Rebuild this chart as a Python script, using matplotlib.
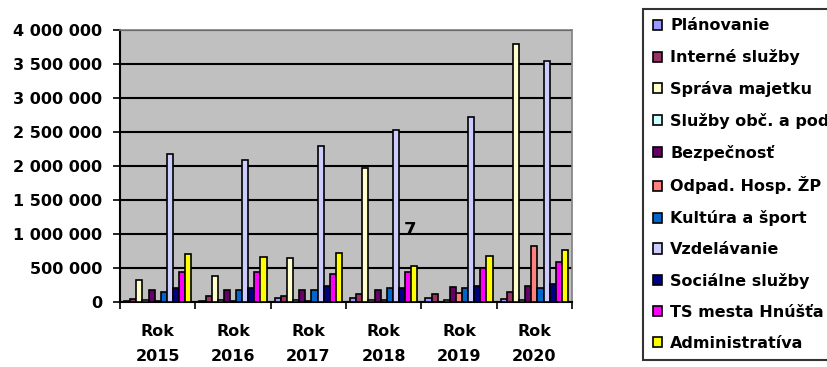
import numpy as np
import matplotlib.pyplot as plt
from matplotlib.ticker import FuncFormatter
from matplotlib.patches import Patch

plt.rcParams['font.family'] = ['DejaVu Sans']
plt.rcParams['font.weight'] = 'bold'

years = ['Rok\n2015', 'Rok\n2016', 'Rok\n2017', 'Rok\n2018', 'Rok\n2019', 'Rok\n2020']

names = ['Plánovanie', 'Interné služby', 'Správa majetku', 'Služby obč. a pod.',
         'Bezpečnosť', 'Odpad. Hosp. ŽP', 'Kultúra a šport', 'Vzdelávanie',
         'Sociálne služby', 'TS mesta Hnúšťa', 'Administratíva']

planovanie = [20000, 20000, 60000, 60000, 55000, 50000]
interne = [40000, 90000, 90000, 118000, 122000, 143000]
sprava = [323000, 380000, 643000, 1965000, 0, 3790000]
sluzby_obc = [30000, 25000, 30000, 30000, 30000, 30000]
bezpecnost = [176000, 176000, 176000, 176000, 216000, 235000]
odpad = [15000, 15000, 15000, 25000, 137000, 824000]
kultura = [147000, 176000, 176000, 206000, 206000, 201000]
vzdelavanie = [2170000, 2085000, 2290000, 2525000, 2725000, 3550000]
socialne = [210000, 210000, 235000, 210000, 235000, 260000]
ts_mesta = [441000, 436000, 407000, 441000, 495000, 584000]
administrativa = [701000, 666000, 725000, 529000, 676000, 765000]

series = [planovanie, interne, sprava, sluzby_obc, bezpecnost, odpad,
          kultura, vzdelavanie, socialne, ts_mesta, administrativa]
colors = ['#9999FF', '#993366', '#FFFFCC', '#CCFFFF', '#660066', '#FF8080',
          '#0066CC', '#CCCCFF', '#000080', '#FF00FF', '#FFFF00']

fig = plt.figure(figsize=(8.27, 3.67), dpi=100)
ax = fig.add_axes([0.1451, 0.1771, 0.5466, 0.7412])
ax.set_facecolor('#C0C0C0')

x = np.arange(len(years))
w = 0.081
for i, (vals, c) in enumerate(zip(series, colors)):
    ax.bar(x + (i - 5) * w, vals, w, color=c, edgecolor='black', linewidth=1.2, zorder=3)

ax.set_xlim(-0.5, 5.5)
ax.set_ylim(0, 4000000)
ax.set_yticks(np.arange(0, 4000001, 500000))
ax.yaxis.set_major_formatter(FuncFormatter(lambda v, p: f'{int(v):,}'.replace(',', ' ')))
ax.grid(axis='y', color='black', linewidth=1.5, zorder=1)

ax.set_xticks(x)
ax.set_xticklabels(years, linespacing=1.85)
ax.set_xticks(np.arange(-0.5, 6, 1), minor=True)
ax.tick_params(axis='x', which='major', length=0, pad=16, labelsize=11.5)
ax.tick_params(axis='x', which='minor', length=5, width=1.2, direction='out')
ax.tick_params(axis='y', length=5, width=1.2, direction='out', labelsize=11.5, pad=8)

for s in ['top', 'right']:
    ax.spines[s].set_color('#808080')
    ax.spines[s].set_linewidth(1.2)
for s in ['left', 'bottom']:
    ax.spines[s].set_color('black')
    ax.spines[s].set_linewidth(1.5)

fig.text(0.496, 0.373, '7', fontsize=13, ha='center', va='center')

handles = [Patch(facecolor=c, edgecolor='black', linewidth=1.2) for c in colors]
leg = fig.legend(handles, names, loc='upper left', bbox_to_anchor=(0.7775, 0.976),
                 prop={'size': 11.5, 'weight': 'bold'}, frameon=True, fancybox=False,
                 handlelength=0.6, handleheight=0.6, handletextpad=0.5,
                 labelspacing=0.99, borderpad=0.6, borderaxespad=0)
leg.get_frame().set_edgecolor('black')
leg.get_frame().set_linewidth(1.5)

fig.savefig('out.png', dpi=100)
